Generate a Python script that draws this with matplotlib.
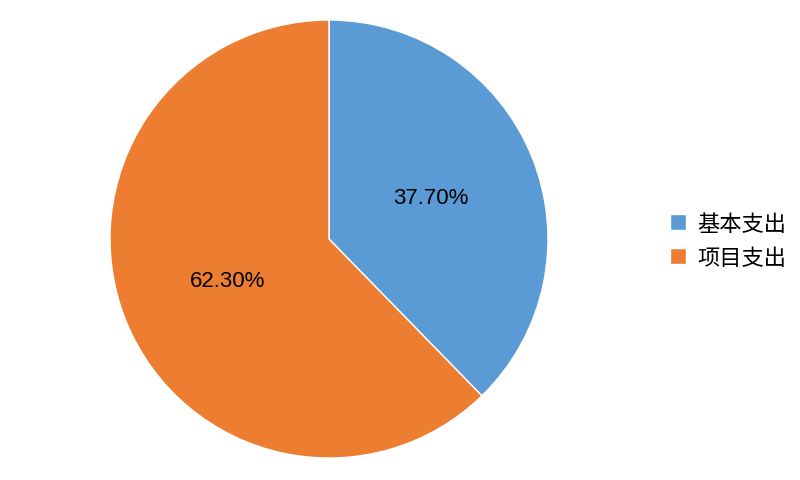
import matplotlib.pyplot as plt

labels = ['基本支出', '项目支出']
shares = [37.70, 62.30]
colors = ['#5B9BD5', '#ED7D31']

plt.rcParams['font.family'] = ['Noto Sans CJK SC', 'DejaVu Sans']

fig = plt.figure(figsize=(8, 4.81), dpi=100)
ax = fig.add_axes([0.1375, 0.0457, 0.5475, 0.9106])

wedges, texts, autotexts = ax.pie(
    shares,
    colors=colors,
    startangle=90,
    counterclock=False,
    autopct='%.2f%%',
    pctdistance=0.5,
    wedgeprops=dict(edgecolor='white', linewidth=1),
    textprops=dict(fontsize=16, family='Liberation Sans', color='black'),
)
ax.set_xlim(-1, 1)
ax.set_ylim(-1, 1)
ax.set_aspect('equal')

fig.legend(
    wedges, labels,
    loc='center left',
    bbox_to_anchor=(0.812, 0.498),
    frameon=False,
    fontsize=16,
    handlelength=0.75,
    handleheight=0.75,
    handletextpad=0.5,
    labelspacing=0.5,
)

plt.savefig('out.png', dpi=100)
